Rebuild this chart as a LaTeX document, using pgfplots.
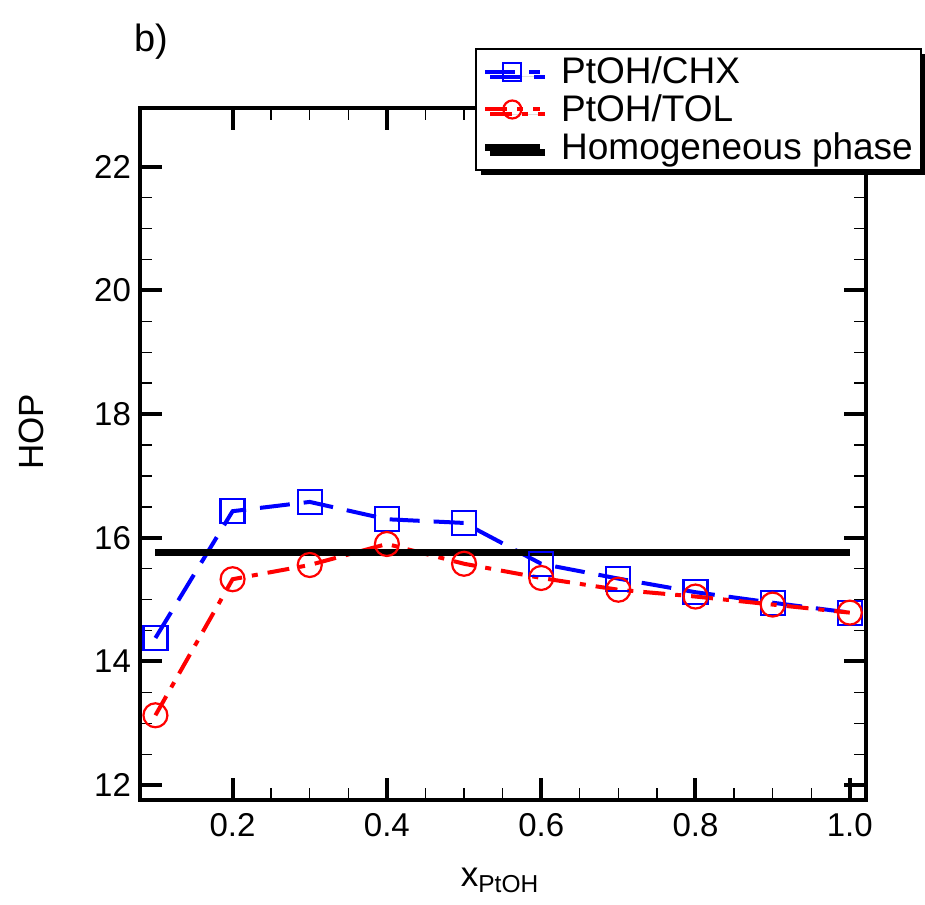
\documentclass[border=0pt]{standalone}
\usepackage{pgfplots}
\pgfplotsset{compat=1.18}
\usepackage{fontspec}
\setmainfont{Liberation Sans}
\usetikzlibrary{shadows}
\begin{document}
\begin{tikzpicture}
\path[use as bounding box] (-70pt,-52pt) rectangle (392.5pt,400pt);
\begin{axis}[
  at={(0,0)}, anchor=south west,
  scale only axis, width=363pt, height=346pt,
  xmin=0.08, xmax=1.021, ymin=11.76, ymax=22.95,
  xtick={0.2,0.4,0.6,0.8,1.0}, ytick={12,14,16,18,20,22},
  minor x tick num=3, minor y tick num=3,
  tick align=inside,
  major tick length=11pt, minor tick length=6pt,
  major tick style={line width=2pt, black},
  minor tick style={line width=0.7pt, black},
  axis line style={line width=2pt},
  /pgf/number format/assume math mode=true,
  xticklabel style={/pgf/number format/fixed, /pgf/number format/fixed zerofill, /pgf/number format/precision=1, yshift=-3pt},
  yticklabel style={/pgf/number format/fixed, /pgf/number format/precision=0, xshift=-1pt},
  tick label style={font=\fontsize{16.5}{18}\selectfont},
  xlabel={x\textsubscript{PtOH}},
  ylabel={HOP},
  label style={font=\fontsize{17.5}{20}\selectfont},
  xlabel style={at={(axis description cs:0.496,-0.116)}, anchor=center},
  ylabel style={at={(axis description cs:-0.149,0.532)}, anchor=center},
  legend style={at={(1.077,1.087)}, anchor=north east, draw=black, line width=1pt,
    font=\fontsize{18.5}{19}\selectfont, fill=white,
    drop shadow={shadow xshift=2.5pt, shadow yshift=-2.5pt, opacity=1, fill=black},
    row sep=2pt, inner xsep=3pt, inner ysep=3pt, nodes={inner sep=1pt}, cells={anchor=west},
    /tikz/every odd column/.append style={column sep=8pt}},
  legend cell align=left,
  legend image code/.code={\draw[mark repeat=2, mark phase=2, #1, mark size=4.5pt] plot coordinates {(0cm,0cm) (0.48cm,0cm) (0.96cm,0cm)};},
  clip=false,
]
\addplot[blue, line width=2pt, dash pattern=on 15pt off 7pt, mark=square, mark size=6pt, mark options={solid, line width=1.1pt}]
coordinates {(0.1,14.38) (0.2,16.43) (0.3,16.58) (0.4,16.30) (0.5,16.24) (0.6,15.58) (0.7,15.34) (0.8,15.12) (0.9,14.95) (1.0,14.79)};
\addlegendentry{PtOH/CHX}
\addplot[red, line width=2pt, dash pattern=on 11pt off 5pt on 3pt off 5pt, mark=o, mark size=6pt, mark options={solid, line width=1.1pt}]
coordinates {(0.1,13.13) (0.2,15.33) (0.3,15.56) (0.4,15.90) (0.5,15.58) (0.6,15.35) (0.7,15.16) (0.8,15.05) (0.9,14.92) (1.0,14.79)};
\addlegendentry{PtOH/TOL}
\addplot[black, line width=3.5pt] coordinates {(0.1,15.76) (1.0,15.76)};
\addlegendentry{Homogeneous phase}
\end{axis}
\node[font=\fontsize{19}{21}\selectfont] at (5.5pt,379pt) {b)};
\end{tikzpicture}
\end{document}
